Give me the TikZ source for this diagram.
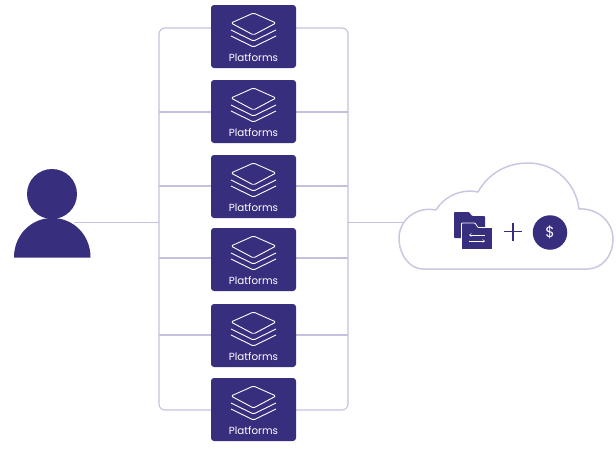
\documentclass[tikz,border=0pt]{standalone}
\usepackage{fontspec}
\setmainfont{Poppins}
\usetikzlibrary{arrows.meta, positioning}
\definecolor{platblue}{HTML}{382E7E}
\definecolor{raillilac}{HTML}{C4C0E0}
\definecolor{cloudlilac}{HTML}{CAC7E1}

\begin{document}
\begin{tikzpicture}[
    x=1pt, y=-1pt,
    platbox/.style={fill=platblue, rounded corners=3pt, minimum width=85pt,
        minimum height=63pt, inner sep=0pt},
    platlabel/.style={text=white, font=\fontsize{10.3}{12}\selectfont, inner sep=0pt},
    rail/.style={draw=raillilac, line width=1.1pt},
    iconline/.style={draw=white, line width=.9pt, line join=round}]
    \useasboundingbox (0,0) rectangle (616,453);

    % rails
    \coordinate (lefttop) at (159,28);
    \coordinate (leftbot) at (159,410);
    \coordinate (righttop) at (348,28);
    \coordinate (rightbot) at (348,410);
    \draw[rail, rounded corners=6pt] (212,28) -- (lefttop) -- (leftbot) -- (212,410);
    \draw[rail, rounded corners=6pt] (295,28) -- (righttop) -- (rightbot) -- (295,410);

    % platforms
    \foreach \i/\top/\branch in {2/80/112, 3/155/186, 4/228/258, 5/304/335} {
        \coordinate (railL\i) at (159,\branch);
        \coordinate (railR\i) at (348,\branch);
        \draw[rail] (railL\i) -- (211,\branch);
        \draw[rail] (railR\i) -- (296,\branch);
    }
    \foreach \i/\top in {1/5, 2/80, 3/155, 4/228, 5/304, 6/378} {
        \node[platbox] (plat\i) at (253.5,\top+31.5) {};
        \node[platlabel] (platlab\i) at (253.5,\top+52.5) {Platforms};
        \begin{scope}[shift={(253.5,\top)}]
            \draw[iconline, rounded corners=1.5pt] (-22.5,18) -- (0,8) -- (22.5,18) -- (0,30) -- cycle;
            \draw[iconline, rounded corners=1.5pt] (-22.5,25) -- (0,36) -- (22.5,25);
            \draw[iconline, rounded corners=1.5pt] (-22.5,31) -- (0,42) -- (22.5,31);
        \end{scope}
    }

    % person
    \fill[platblue] (14,257.5) .. controls (14,235) and (31,218) .. (52.3,218)
        .. controls (73.5,218) and (90.5,235) .. (90.5,257.5) -- cycle;
    \node[circle, fill=platblue, minimum size=50pt, inner sep=0pt] (head) at (52,194) {};
    \coordinate (body) at (74,222.5);
    \coordinate (railin) at (159,222.5);
    \draw[rail] (body) -- (railin);

    % cloud
    \coordinate (railout) at (348,222.5);
    \coordinate (cloudin) at (403,222.5);
    \draw[rail] (railout) -- (cloudin);
    \draw[draw=cloudlilac, line width=1.5pt, line join=round]
        (423,269) .. controls (409,269) and (399,254) .. (399,238)
        .. controls (399,221) and (415,206) .. (436,210)
        .. controls (443,198) and (460,188) .. (478,192)
        .. controls (488,174) and (506,163) .. (528,163)
        .. controls (556,163) and (576,184) .. (579,209)
        .. controls (598,208) and (613,222) .. (613,239)
        .. controls (613,256) and (602,269) .. (587,269) -- cycle;

    % folders
    \fill[platblue, rounded corners=.8pt] (454,212) -- (469,212) -- (472,216) -- (485,216)
        -- (485,238) -- (454,238) -- cycle;
    \draw[fill=platblue, draw=white, line width=.8pt, rounded corners=.8pt] (461.5,223) -- (475,223) -- (478,227.5)
        -- (492.5,227.5) -- (492.5,249.5) -- (461.5,249.5) -- cycle;
    \draw[draw=white, line width=.5pt, -{Straight Barb[length=2pt,width=3pt]}] (485,235) -- (469,235);
    \draw[draw=white, line width=.5pt, -{Straight Barb[length=2pt,width=3pt]}] (469,241) -- (485,241);

    % plus
    \draw[draw=platblue, line width=1.2pt] (504,231.5) -- (522,231.5);
    \draw[draw=platblue, line width=1.2pt] (513,222.5) -- (513,240.5);

    % dollar
    \node[circle, fill=platblue, text=white, minimum size=34.5pt, inner sep=0pt,
        font=\fontsize{15}{17}\selectfont] (dollar) at (550,232.5) {\$};

\end{tikzpicture}
\end{document}
